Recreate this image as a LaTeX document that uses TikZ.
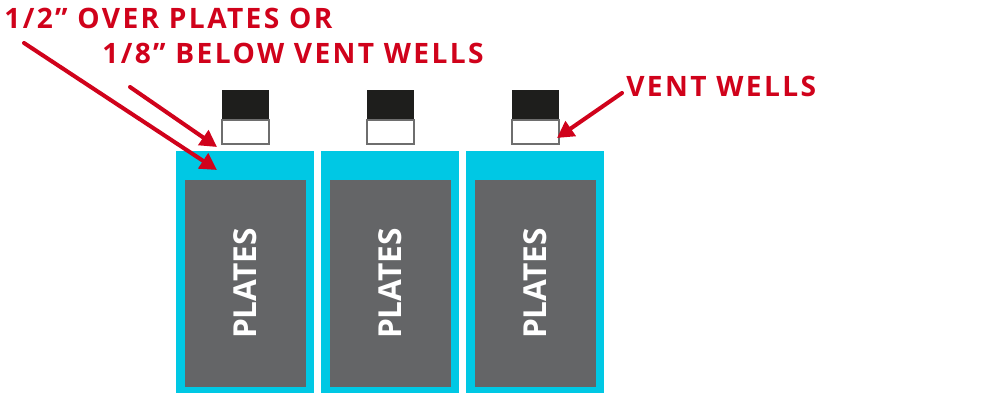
\documentclass[tikz,border=0pt]{standalone}
\usepackage{fontspec}
\setmainfont{Open Sans}
\newfontfamily\callfont[LetterSpace=8.5]{Open Sans}
\usetikzlibrary{arrows.meta,positioning}
\definecolor{callred}{RGB}{208,2,27}
\definecolor{cellcyan}{RGB}{0,200,228}
\definecolor{plategray}{RGB}{100,101,103}
\definecolor{capblack}{RGB}{30,30,28}
\definecolor{capedge}{RGB}{110,110,110}

\begin{document}
\begin{tikzpicture}[x=0.02cm,y=-0.02cm,
    callout/.style={callred, line width=2.3pt, line cap=round, -{Triangle[length=9.5pt,width=10pt]}},
    calltext/.style={callred, font=\callfont\bfseries\fontsize{16}{18}\selectfont, inner sep=0pt, anchor=base west},
    platetext/.style={white, font=\bfseries\fontsize{18}{20}\selectfont, rotate=90}]
    \useasboundingbox (0,0) rectangle (990,404);

    % Cells with plates and vent caps
    \foreach \i/\x in {1/176,2/321,3/466} {
        \fill[cellcyan] (\x,151) rectangle ++(138,242);
        \fill[plategray] (\x+9,180) rectangle (\x+130,387);
        \node[platetext] (plate\i) at (\x+69.5,283.5) {PLATES};
        \fill[capblack] (\x+46,90) rectangle (\x+93,120);
        \draw[capedge, fill=white, line width=0.8pt] (\x+46,120) rectangle (\x+93,144);
    }

    % Labels
    \node[calltext] (overnote) at (4,28.5) {1/2” OVER PLATES OR};
    \node[calltext] (belownote) at (102,64) {1/8” BELOW VENT WELLS};
    \node[calltext] (ventnote) at (626,96.5) {VENT WELLS};

    % Arrows
    \coordinate (overtail) at (24,43);
    \coordinate (overtip) at (217,170);
    \coordinate (belowtail) at (130,87);
    \coordinate (belowtip) at (217,147);
    \coordinate (venttail) at (622,93);
    \coordinate (venttip) at (557,138);
    \draw[callout] (overtail) -- (overtip);
    \draw[callout] (belowtail) -- (belowtip);
    \draw[callout] (venttail) -- (venttip);
\end{tikzpicture}
\end{document}
